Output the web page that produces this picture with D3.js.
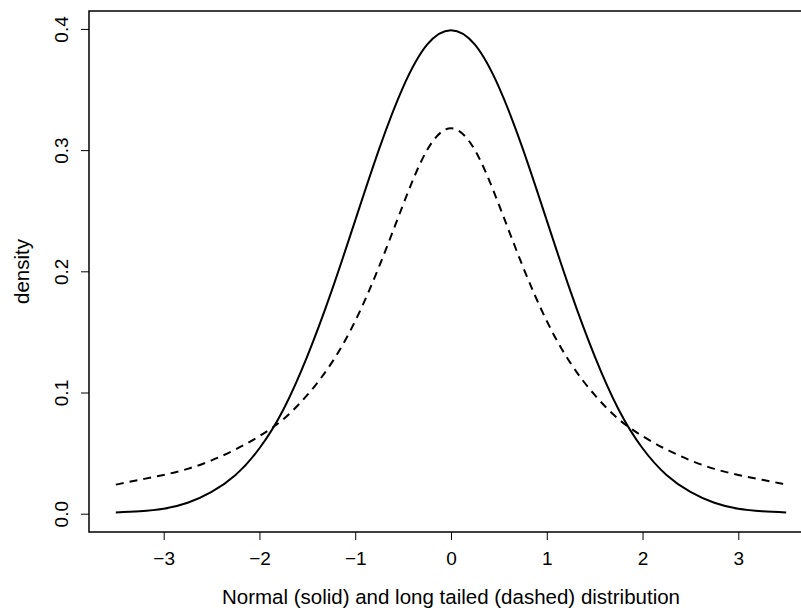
<!DOCTYPE html>
<html>
<head>
<meta charset="utf-8">
<script src="https://cdn.jsdelivr.net/npm/d3@7"></script>
<style>
  body { margin: 0; background: #fff; }
  text { font-family: "Liberation Sans", Arial, sans-serif; }
</style>
</head>
<body>
<div id="chart"></div>
<script>
// values, every 0.25 from -3.5 to 3.5
const xs = [-3.5, -3.25, -3, -2.75, -2.5, -2.25, -2, -1.75, -1.5, -1.25, -1, -0.75, -0.5, -0.25,
            0, 0.25, 0.5, 0.75, 1, 1.25, 1.5, 1.75, 2, 2.25, 2.5, 2.75, 3, 3.25, 3.5];
const normalVals = [0.001, 0.002, 0.004, 0.009, 0.018, 0.032, 0.054, 0.086, 0.130, 0.183, 0.242, 0.301, 0.352, 0.387,
                    0.399, 0.387, 0.352, 0.301, 0.242, 0.183, 0.130, 0.086, 0.054, 0.032, 0.018, 0.009, 0.004, 0.002, 0.001];
const tailVals = [0.024, 0.028, 0.032, 0.037, 0.044, 0.053, 0.064, 0.078, 0.098, 0.124, 0.159, 0.204, 0.255, 0.300,
                  0.318, 0.300, 0.255, 0.204, 0.159, 0.124, 0.098, 0.078, 0.064, 0.053, 0.044, 0.037, 0.032, 0.028, 0.024];
const xTicks = [-3, -2, -1, 0, 1, 2, 3];
const yTicks = [0, 0.1, 0.2, 0.3, 0.4];

//Margins
const margin = { top: 11, left: 89, bottom: 78 };
const width = 724;
const height = 610 - margin.top - margin.bottom;

const svg = d3.select('#chart')
    .append('svg')
    .attr('width', 801)
    .attr('height', 610);

const g = svg.append('g')
    .attr('transform', 'translate(' + margin.left + ',' + margin.top + ')');

//Scales (R style 4% padding)
const x = d3.scaleLinear().domain([-3.78, 3.78]).range([0, width]);
const y = d3.scaleLinear().domain([-0.0151, 0.4148]).range([height, 0]);

//X Axis
const xAxis = g.append('g')
    .attr('transform', 'translate(0,' + height + ')')
    .call(d3.axisBottom(x).tickValues(xTicks).tickSize(8).tickPadding(12).tickFormat(d3.format('d')));
xAxis.select('.domain').remove();
xAxis.selectAll('text').style('font-size', '19px').attr('fill', '#000');

//Y Axis
const yAxis = g.append('g')
    .call(d3.axisLeft(y).tickValues(yTicks).tickSize(8).tickFormat(d3.format('.1f')));
yAxis.select('.domain').remove();
yAxis.selectAll('text')
    .attr('x', null).attr('dy', null)
    .attr('transform', 'translate(-21,0) rotate(-90)')
    .attr('text-anchor', 'middle')
    .style('font-size', '19px')
    .attr('fill', '#000');

//Box
g.append('rect')
    .attr('x', 0).attr('y', 0)
    .attr('width', width).attr('height', height)
    .attr('fill', 'none')
    .attr('stroke', '#000')
    .attr('stroke-width', 1.5);

//Curves
const line = vals => d3.line()
    .x((d, i) => x(xs[i]))
    .y(d => y(d))
    .curve(d3.curveNatural)(vals);

g.append('path')
    .attr('d', line(normalVals))
    .attr('fill', 'none')
    .attr('stroke', '#000')
    .attr('stroke-width', 2);

g.append('path')
    .attr('d', line(tailVals))
    .attr('fill', 'none')
    .attr('stroke', '#000')
    .attr('stroke-width', 2)
    .attr('stroke-dasharray', '8,6');

//Labels
svg.append('text')
    .text('Normal (solid) and long tailed (dashed) distribution')
    .attr('x', margin.left + x(0))
    .attr('y', 604)
    .attr('text-anchor', 'middle')
    .style('font-size', '20.5px');

svg.append('text')
    .text('density')
    .attr('transform', 'translate(29,' + (margin.top + height / 2) + ') rotate(-90)')
    .attr('text-anchor', 'middle')
    .style('font-size', '20.5px');
</script>
</body>
</html>
